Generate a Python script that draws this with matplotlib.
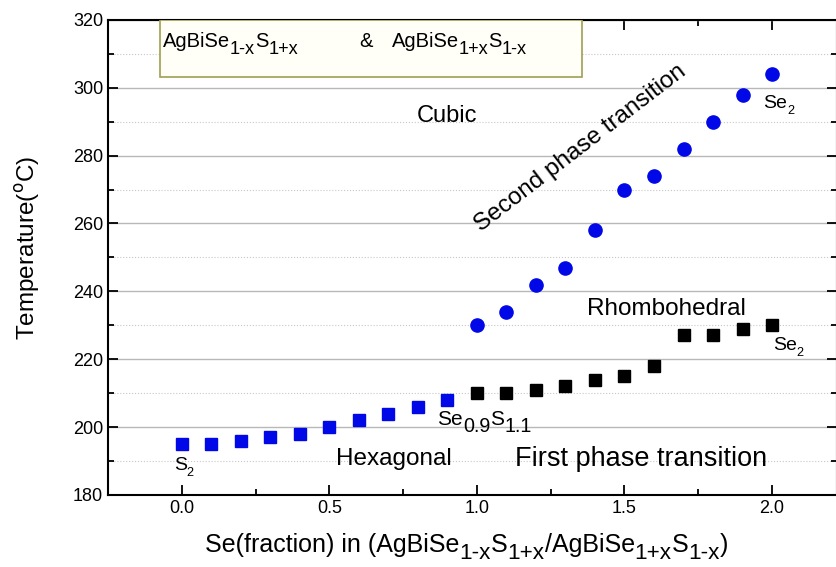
import matplotlib.pyplot as plt
import matplotlib.transforms as mtransforms
from matplotlib.ticker import MultipleLocator
from matplotlib.patches import Rectangle

plt.rcParams['font.family'] = ['Liberation Sans', 'DejaVu Sans']

# Se fraction and transition temperatures
x_low = [0.0, 0.1, 0.2, 0.3, 0.4, 0.5, 0.6, 0.7, 0.8, 0.9]
t_low = [195, 195, 196, 197, 198, 200, 202, 204, 206, 208]
x_high = [1.0, 1.1, 1.2, 1.3, 1.4, 1.5, 1.6, 1.7, 1.8, 1.9, 2.0]
t_first = [210, 210, 211, 212, 214, 215, 218, 227, 227, 229, 230]
t_second = [230, 234, 242, 247, 258, 270, 274, 282, 290, 298, 304]

fig = plt.figure(figsize=(8.37, 5.67), dpi=100)
ax = fig.add_axes([0.129, 0.127, 0.871, 0.838])
renderer = fig.canvas.get_renderer()


# origin style text: pieces are (string, 0) normal or (string, -1) subscript
def rich_text(x, y, parts, size, transform, sub_scale=0.9, sub_drop=0.38):
    dx = 0
    for s, kind in parts:
        fs = size if kind == 0 else size * sub_scale
        dy = -sub_drop * size if kind == -1 else 0
        tr = mtransforms.offset_copy(transform, fig=fig, x=dx, y=dy, units='points')
        t = ax.text(x, y, s, transform=tr, fontsize=fs, va='baseline', ha='left',
                    zorder=5, clip_on=False)
        dx += t.get_window_extent(renderer).width * 72 / fig.dpi


blue = '#0008e8'
ax.plot(x_low, t_low, 's', color=blue, ms=9, mec=blue)
ax.plot(x_high, t_first, 's', color='black', ms=8)
ax.plot(x_high, t_second, 'o', color=blue, ms=9.5, mec=blue)

ax.set_xlim(-0.25, 2.22)
ax.set_ylim(180, 320)
ax.xaxis.set_major_locator(MultipleLocator(0.5))
ax.xaxis.set_minor_locator(MultipleLocator(0.25))
ax.yaxis.set_major_locator(MultipleLocator(20))
ax.yaxis.set_minor_locator(MultipleLocator(10))
ax.tick_params(which='both', direction='in', top=True, right=True, labelsize=13, width=1.3)
ax.tick_params(which='major', length=7)
ax.tick_params(which='minor', length=4)
ax.xaxis.set_major_formatter(lambda v, p: f'{v:.1f}')
for s in ax.spines.values():
    s.set_linewidth(1.5)

ax.yaxis.grid(True, which='major', color='#b8b8b8', lw=1)
ax.yaxis.grid(True, which='minor', color='#c8c8c8', lw=0.8, ls=':')
ax.set_axisbelow(True)

ax.set_ylabel('Temperature(' + r'$^{\mathrm{o}}$' + 'C)', fontsize=17.5)
ax.yaxis.set_label_coords(-0.09, 0.52)

# x label, drawn piece by piece so the subscripts look like the original
rich_text(205 / 837, 15 / 567,
          [('Se(fraction) in (AgBiSe', 0), ('1-x', -1), ('S', 0), ('1+x', -1),
           ('/AgBiSe', 0), ('1+x', -1), ('S', 0), ('1-x', -1), (')', 0)],
          18, fig.transFigure, sub_scale=0.9, sub_drop=0.27)

# composition box
box = Rectangle((0.0713, 0.88), 0.579, 0.12, transform=ax.transAxes,
                facecolor='#fffff8', edgecolor='#a0a050', lw=1.2, zorder=3)
ax.add_patch(box)
rich_text(0.075, 0.942, [('AgBiSe', 0), ('1-x', -1), ('S', 0), ('1+x', -1)], 14.5,
          ax.transAxes, sub_drop=0.32)
rich_text(0.345, 0.942, [('&', 0)], 14.5, ax.transAxes)
rich_text(0.389, 0.942, [('AgBiSe', 0), ('1+x', -1), ('S', 0), ('1-x', -1)], 14.5,
          ax.transAxes, sub_drop=0.32)

# phase labels
ax.text(0.897, 289.9, 'Cubic', fontsize=17, ha='center', va='baseline')
ax.text(1.35, 282.2, 'Second phase transition', fontsize=17.5, ha='center', va='center',
        rotation=37.5, rotation_mode='anchor')
ax.text(1.641, 233, 'Rhombohedral', fontsize=17.5, ha='center', va='baseline')
ax.text(0.72, 188.7, 'Hexagonal', fontsize=17.5, ha='center', va='baseline')
ax.text(1.557, 188.4, 'First phase transition', fontsize=19.5, ha='center', va='baseline')

rich_text(1.97, 294, [('Se', 0), ('2', -1)], 14, ax.transData, sub_scale=0.65, sub_drop=0.3)
rich_text(2.003, 222.7, [('Se', 0), ('2', -1)], 14, ax.transData, sub_scale=0.65, sub_drop=0.3)
rich_text(0.866, 200.5, [('Se', 0), ('0.9', -1), ('S', 0), ('1.1', -1)], 15, ax.transData,
          sub_scale=0.95, sub_drop=0.3)
rich_text(-0.027, 187.3, [('S', 0), ('2', -1)], 14, ax.transData, sub_scale=0.65, sub_drop=0.3)

fig.savefig('out.png', dpi=100)
